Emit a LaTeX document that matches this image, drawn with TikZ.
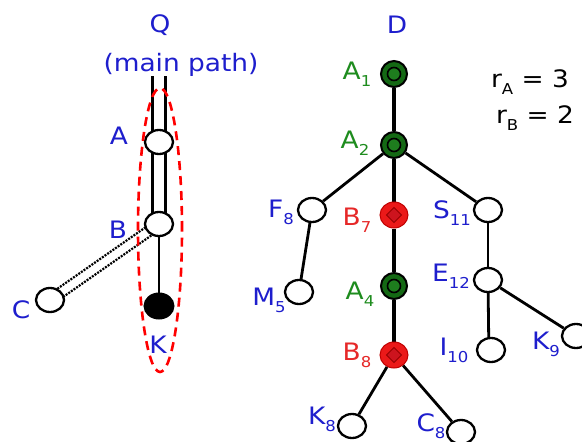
\documentclass[tikz,border=0pt]{standalone}
\usepackage{fontspec}
\setmainfont{DejaVu Sans}[FakeStretch=1.1]
\usetikzlibrary{shapes.geometric,calc,backgrounds}
\definecolor{lblue}{RGB}{30,30,205}
\definecolor{lgreen}{RGB}{30,140,30}
\definecolor{lred}{RGB}{230,40,40}
\definecolor{dkgreen}{RGB}{20,105,20}
\definecolor{midgreen}{RGB}{30,125,30}
\definecolor{nred}{RGB}{235,25,25}
\definecolor{dred}{RGB}{150,0,0}
\definecolor{mred}{RGB}{205,20,30}
\newcommand\sbs[1]{\raisebox{-0.3em}{\fontsize{15}{15}\selectfont #1}}
\begin{document}
\begin{tikzpicture}[x=1pt,y=-1pt,
  wn/.style={ellipse, draw, line width=2.3pt, fill=white, minimum width=28pt, minimum height=24pt, inner sep=0pt},
  kn/.style={ellipse, draw, line width=2pt, fill=black, minimum width=29pt, minimum height=25pt, inner sep=0pt},
  gn/.style={circle, draw, line width=2pt, fill=dkgreen, minimum size=26pt, inner sep=0pt,
    path picture={\draw[line width=1.6pt, fill=midgreen] (path picture bounding box.center) circle (6.5pt);}},
  rn/.style={ellipse, draw=red!75!black, line width=1pt, fill=nred, minimum width=28pt, minimum height=26pt, inner sep=0pt,
    path picture={\draw[line width=1pt, draw=dred, fill=mred] ($(path picture bounding box.center)+(0,-7.5pt)$) -- ++(7.5pt,7.5pt) -- ++(-7.5pt,7.5pt) -- ++(-7.5pt,-7.5pt) -- cycle;}},
  lbl/.style={font=\fontsize{24}{24}\selectfont, inner sep=0pt},
  bl/.style={lbl, text=lblue},
  gl/.style={lbl, text=lgreen},
  rl/.style={lbl, text=lred},
  edge/.style={line width=2.8pt},
  spine/.style={line width=3.5pt},
]
\begin{scope}[on background layer]
  \fill[white] (0,0) rectangle (582,442);
\end{scope}
\useasboundingbox (0,0) rectangle (582,442);

% ---------- left: Q ----------
\node[bl] (Qlab) at (160,25) {Q};
\node[bl] (mp) at (181,65) {(main path)};
\coordinate (Qtop) at (159,76);
\node[wn] (A) at (159,142) {};
\node[wn] (B) at (159,224) {};
\node[kn] (K) at (159,306) {};
\node[wn] (C) at (50,300) {};
\node[bl] (lA) at (119,136) {A};
\node[bl] (lB) at (118,230) {B};
\node[bl] (lC) at (21,310) {C};
\node[bl] (lK) at (158,345) {K};

\begin{scope}[on background layer]
  \draw[line width=2.6pt, double=white, double distance=10.5pt] (Qtop) -- (A.center) -- (B.center);
  \draw[line width=2.2pt] (B) -- (K);
  \draw[line width=2.2pt, dash pattern=on 2pt off 1.2pt] ($(B)!5pt!90:(C)$) -- ($(C)!5pt!-90:(B)$);
  \draw[line width=2.2pt, dash pattern=on 2pt off 1.2pt] ($(B)!5pt!-90:(C)$) -- ($(C)!5pt!90:(B)$);
\end{scope}
\draw[red, line width=2.6pt, dash pattern=on 9pt off 6pt] (160,230) ellipse [x radius=22pt, y radius=142pt];

% ---------- right: D ----------
\node[bl] (Dlab) at (397,25) {D};
\node[gn] (A1) at (394,74) {};
\node[gn] (A2) at (394,145) {};
\node[wn] (F8) at (312,210) {};
\node[rn] (B7) at (394,215) {};
\node[wn] (S11) at (488,210) {};
\node[wn] (M5) at (299,292) {};
\node[gn] (A4) at (394,286) {};
\node[wn] (E12) at (488,280) {};
\node[rn] (B8) at (394,355) {};
\node[wn] (I10) at (491,350) {};
\node[wn] (K9) at (576,336) {};
\node[wn] (K8) at (352,426) {};
\node[wn] (C8) at (461,432) {};

\node[gl] (lA1) at (357,74) {A\sbs{1}};
\node[gl] (lA2) at (355,143) {A\sbs{2}};
\node[bl] (lF8) at (281,212) {F\sbs{8}};
\node[rl] (lB7) at (357,220) {B\sbs{7}};
\node[bl] (lS11) at (452,213) {S\sbs{11}};
\node[bl] (lM5) at (269,300) {M\sbs{5}};
\node[gl] (lA4) at (360,294) {A\sbs{4}};
\node[bl] (lE12) at (451,276) {E\sbs{12}};
\node[rl] (lB8) at (357,355) {B\sbs{8}};
\node[bl] (lI10) at (454,350) {I\sbs{10}};
\node[bl] (lK9) at (546,344) {K\sbs{9}};
\node[bl] (lK8) at (322,419) {K\sbs{8}};
\node[bl] (lC8) at (431,426) {C\sbs{8}};

\node[lbl] (rA) at (530,82) {r\sbs{A} = 3};
\node[lbl] (rB) at (535,118) {r\sbs{B} = 2};

\begin{scope}[on background layer]
  \draw[spine] (A1) -- (A2) -- (B7) -- (A4) -- (B8);
  \draw[edge] (A2) -- (F8);
  \draw[edge] (A2) -- (S11);
  \draw[edge] (F8) -- (M5);
  \draw[edge] (S11) -- (E12);
  \draw[edge] (E12.center) -- (I10.100);
  \draw[edge] (E12) -- (K9);
  \draw[edge] (B8) -- (K8);
  \draw[edge] (B8) -- (C8);
\end{scope}
\end{tikzpicture}
\end{document}
